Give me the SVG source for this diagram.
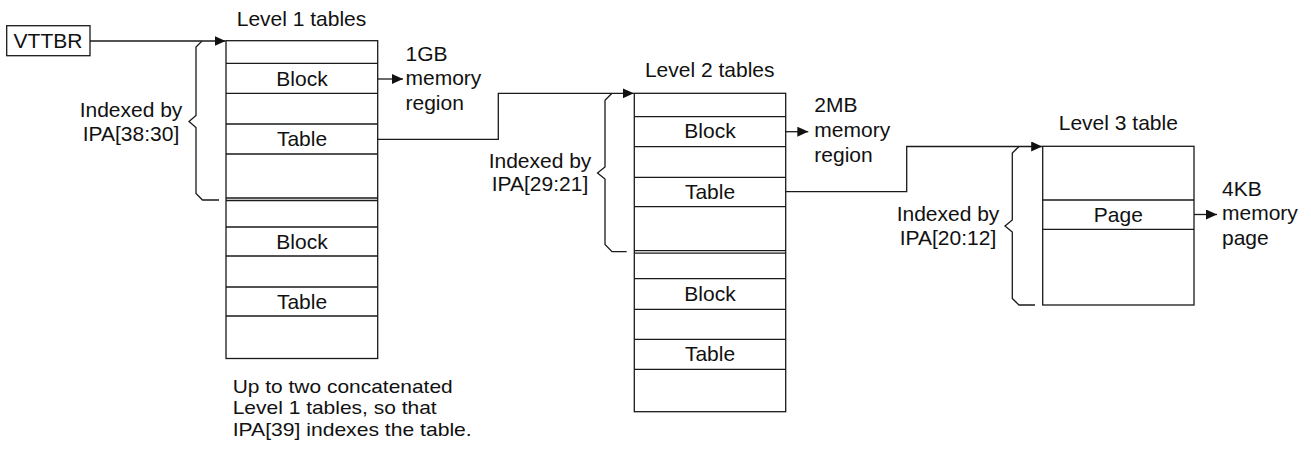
<svg xmlns="http://www.w3.org/2000/svg" width="1311" height="449" viewBox="0 0 1311 449">
<style>
text{font-family:"Liberation Sans",Arial,sans-serif;font-size:21px;fill:#111}
.c{text-anchor:middle}
.note{font-size:19px}
.box{fill:#fff;stroke:#1a1a1a;stroke-width:1.3}
.ln{stroke:#1a1a1a;stroke-width:1.3;fill:none}
.con{stroke:#1a1a1a;stroke-width:1.3;fill:none}
</style>
<defs>
<marker id="ah" markerUnits="userSpaceOnUse" markerWidth="11" markerHeight="10" refX="11" refY="5" orient="auto">
<path d="M0,0 L11,5 L0,10 z" fill="#111"/>
</marker>
</defs>
<rect width="1311" height="449" fill="#fff"/>

<g id="vttbr">
<rect class="box" x="6.7" y="25.7" width="83.3" height="30"/>
<text class="c" x="48" y="47.5">VTTBR</text>
</g>

<g id="l1-tables">
<text class="c" x="301.5" y="26">Level 1 tables</text>
<rect class="box" x="226" y="40.7" width="151.7" height="317.8"/>
<path class="ln" d="M226,63.3H377.7M226,93.3H377.7M226,124H377.7M226,154H377.7M226,198H377.7M226,200.5H377.7M226,227H377.7M226,256H377.7M226,287H377.7M226,316H377.7"/>
<text class="c" x="302" y="85.5">Block</text>
<text class="c" x="302" y="146">Table</text>
<text class="c" x="302" y="248.5">Block</text>
<text class="c" x="302" y="308.5">Table</text>
</g>

<g id="l1-index">
<path class="ln" d="M202,41 L196,47 V115.5 L189,121.5 L196,127.5 V193.5 L202.5,200 H219"/>
<text class="c" x="131" y="116.5">Indexed by</text>
<text class="c" x="131" y="141">IPA[38:30]</text>
</g>

<g id="l1-note">
<text class="note" x="232.7" y="392.5" textLength="220" lengthAdjust="spacingAndGlyphs">Up to two concatenated</text>
<text class="note" x="232.7" y="414" textLength="204" lengthAdjust="spacingAndGlyphs">Level 1 tables, so that</text>
<text class="note" x="232.7" y="435.5" textLength="239" lengthAdjust="spacingAndGlyphs">IPA[39] indexes the table.</text>
</g>

<g id="region-1gb">
<text x="405.5" y="60.5">1GB</text>
<text x="405.5" y="85">memory</text>
<text x="405.5" y="109.5">region</text>
</g>

<g id="l2-tables">
<text class="c" x="709.7" y="76.7">Level 2 tables</text>
<rect class="box" x="634.3" y="93.3" width="151.4" height="318.4"/>
<path class="ln" d="M634.3,116.7H785.7M634.3,146.7H785.7M634.3,177.3H785.7M634.3,206.7H785.7M634.3,250.6H785.7M634.3,253.1H785.7M634.3,278.7H785.7M634.3,309.3H785.7M634.3,339.3H785.7M634.3,369.3H785.7"/>
<text class="c" x="710" y="138">Block</text>
<text class="c" x="710" y="199">Table</text>
<text class="c" x="710" y="301">Block</text>
<text class="c" x="710" y="361">Table</text>
</g>

<g id="l2-index">
<path class="ln" d="M612,93.3 L605,100.3 V167 L597.5,173 L605,179 V244.5 L612,251.7 H626.7"/>
<text class="c" x="540" y="167.5">Indexed by</text>
<text class="c" x="540" y="191">IPA[29:21]</text>
</g>

<g id="region-2mb">
<text x="814.3" y="112">2MB</text>
<text x="814.3" y="137">memory</text>
<text x="814.3" y="161.5">region</text>
</g>

<g id="l3-table">
<text class="c" x="1118.3" y="129.5">Level 3 table</text>
<rect class="box" x="1042.7" y="146.3" width="151.3" height="158.7"/>
<path class="ln" d="M1042.7,200H1194M1042.7,229.3H1194"/>
<text class="c" x="1118.3" y="221.5">Page</text>
</g>

<g id="l3-index">
<path class="ln" d="M1019,146.5 L1012.3,153 V220 L1005,226 L1012.3,232 V298.5 L1019,305 H1035"/>
<text class="c" x="948" y="220.5">Indexed by</text>
<text class="c" x="948" y="244.5">IPA[20:12]</text>
</g>

<g id="page-4kb">
<text x="1222" y="195.5">4KB</text>
<text x="1222" y="220">memory</text>
<text x="1222" y="244.5">page</text>
</g>

<g id="connectors">
<path class="con" d="M90,41 H225.5" marker-end="url(#ah)"/>
<path class="con" d="M377.7,79 H403" marker-end="url(#ah)"/>
<path class="con" d="M377.7,139.3 H498.3 V93.3 H633.8" marker-end="url(#ah)"/>
<path class="con" d="M785.7,131.7 H808.3" marker-end="url(#ah)"/>
<path class="con" d="M785.7,191.7 H906.7 V146.5 H1042.2" marker-end="url(#ah)"/>
<path class="con" d="M1194,214.5 H1217" marker-end="url(#ah)"/>
</g>
</svg>
